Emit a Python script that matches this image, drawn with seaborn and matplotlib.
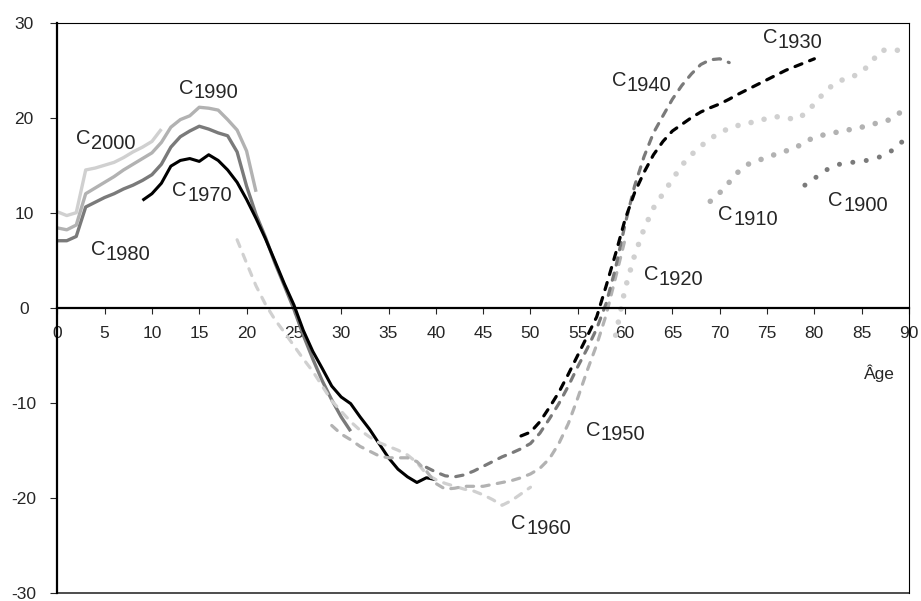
import pandas as pd
import matplotlib
matplotlib.use('Agg')
import matplotlib.pyplot as plt
import seaborn as sns

# cohort profiles by age (first age of each series, then one value per year)
start_age = {'2000': 0, '1990': 0, '1980': 0, '1970': 9, '1960': 19, '1950': 29,
             '1940': 39, '1930': 49, '1920': 59, '1910': 69, '1900': 79}

c2000 = [10.1, 9.7, 10.0, 14.5, 14.7, 15.0, 15.3, 15.8, 16.4, 16.9, 17.5, 18.8]
c1990 = [8.4, 8.2, 8.7, 12.0, 12.6, 13.2, 13.8, 14.5, 15.1, 15.7, 16.3, 17.4,
         19.0, 19.8, 20.2, 21.1, 21.0, 20.8, 19.8, 18.7, 16.5, 12.2]
c1980 = [7.05, 7.05, 7.5, 10.6, 11.1, 11.6, 12.0, 12.5, 12.9, 13.4, 14.0, 15.1,
         16.9, 18.0, 18.6, 19.1, 18.8, 18.4, 18.1, 16.4, 12.8, 9.8, 7.4, 4.7,
         2.3, -0.15, -2.9, -5.4, -7.7, -9.7, -11.5, -13.0]
c1970 = [11.3, 12.0, 13.1, 14.9, 15.5, 15.7, 15.4, 16.1, 15.5, 14.5, 13.2, 11.4,
         9.4, 7.25, 4.9, 2.5, 0.3, -2.4, -4.6, -6.4, -8.25, -9.4, -10.1, -11.5,
         -12.8, -14.3, -15.8, -17.0, -17.8, -18.4, -17.9, -18.1]
c1960 = [7.15, 4.7, 2.3, 0.35, -1.26, -2.6, -4.0, -5.4, -6.7, -8.25, -9.8, -10.9,
         -12.0, -12.9, -13.6, -14.2, -14.6, -15.0, -15.5, -16.3, -17.5, -18.1,
         -18.5, -18.8, -19.1, -19.3, -19.7, -20.2, -20.8, -20.3, -19.6, -18.9]
c1950 = [-12.4, -13.3, -13.9, -14.6, -15.1, -15.6, -15.8, -15.8, -15.8, -16.2,
         -17.2, -18.5, -19.1, -19.0, -18.8, -18.8, -18.8, -18.6, -18.4, -18.2,
         -17.9, -17.5, -16.9, -15.9, -14.3, -12.2, -9.5, -6.6, -3.9, -0.75, 3.2, 7.2]
c1940 = [-16.8, -17.3, -17.7, -17.8, -17.6, -17.2, -16.7, -16.2, -15.7, -15.3,
         -14.85, -14.3, -13.2, -11.7, -10.1, -8.25, -6.2, -4.3, -2.2, 0.46, 4.2,
         8.8, 12.8, 15.9, 18.4, 20.2, 21.95, 23.4, 24.6, 25.6, 26.1, 26.2, 25.8]
c1930 = [-13.5, -13.1, -12.0, -10.5, -8.9, -7.0, -5.0, -3.0, -0.96, 2.3, 5.7, 9.3,
         12.1, 14.25, 16.1, 17.5, 18.6, 19.3, 20.0, 20.6, 21.05, 21.45, 21.95,
         22.5, 23.0, 23.5, 24.0, 24.5, 25.0, 25.4, 25.8, 26.2]
c1920 = [-2.9, 2.0, 5.5, 8.3, 10.5, 12.0, 13.5, 15.0, 16.1, 17.0, 17.8, 18.4,
         18.9, 19.2, 19.4, 19.7, 19.9, 20.1, 20.0, 19.8, 20.4, 21.45, 22.6, 23.5,
         24.0, 24.3, 24.8, 25.8, 27.1, 27.1, 27.1, 27.1]
c1910 = [11.2, 12.1, 13.2, 14.35, 15.1, 15.5, 15.8, 16.2, 16.5, 16.8, 17.5, 17.9,
         18.2, 18.4, 18.6, 18.8, 19.0, 19.3, 19.5, 19.8, 20.5, 21.15]
c1900 = [12.9, 13.6, 14.35, 14.9, 15.2, 15.3, 15.4, 15.6, 15.9, 16.4, 17.2, 18.2]

series = {'2000': c2000, '1990': c1990, '1980': c1980, '1970': c1970,
          '1960': c1960, '1950': c1950, '1940': c1940, '1930': c1930,
          '1920': c1920, '1910': c1910, '1900': c1900}

# where the cohort names sit (age, value at the C / subscript junction)
label_pos = {'2000': (3.5, 17.8), '1990': (14.4, 23.1), '1980': (5.1, 6.1),
             '1970': (13.7, 12.3), '1960': (49.5, -22.7), '1950': (57.4, -12.9),
             '1940': (60.1, 23.9), '1930': (76.1, 28.4), '1920': (63.5, 3.5),
             '1910': (71.4, 9.8), '1900': (83.0, 11.3)}

frames = []
for year, vals in series.items():
    a0 = start_age[year]
    frames.append(pd.DataFrame({'age': range(a0, a0 + len(vals)),
                                'value': vals, 'cohort': year}))
df = pd.concat(frames, ignore_index=True)

light, mid, dark = '#d0d0d0', '#b2b2b2', '#7a7a7a'
dash = (0, (2.3, 2.6))
dot = (0, (0.01, 2.4))
styles = {
    '2000': dict(color=light, lw=2.4, ls='-'),
    '1990': dict(color=mid, lw=2.4, ls='-'),
    '1980': dict(color=dark, lw=2.4, ls='-'),
    '1970': dict(color='black', lw=2.2, ls='-'),
    '1960': dict(color=light, lw=2.3, ls=dash),
    '1950': dict(color=mid, lw=2.3, ls=dash),
    '1940': dict(color=dark, lw=2.3, ls=dash),
    '1930': dict(color='black', lw=2.3, ls=dash),
    '1920': dict(color=light, lw=4.0, ls=dot),
    '1910': dict(color=mid, lw=4.0, ls=dot),
    '1900': dict(color=dark, lw=3.6, ls=(0, (0.01, 2.7))),
}

sns.set_style('white')
plt.rcParams['font.family'] = ['Liberation Sans', 'DejaVu Sans']
plt.rcParams['axes.unicode_minus'] = False

fig, ax = plt.subplots(figsize=(9.21, 6.01), dpi=100)
fig.subplots_adjust(left=57.3 / 921, right=909 / 921, top=1 - 22.7 / 601, bottom=8.3 / 601)

for year in series:
    st = styles[year]
    sns.lineplot(data=df[df['cohort'] == year], x='age', y='value', ax=ax,
                 color=st['color'], linewidth=st['lw'], linestyle=st['ls'],
                 dash_capstyle='round', solid_capstyle='butt',
                 errorbar=None, legend=False, clip_on=False)

for year, (x, y) in label_pos.items():
    ax.text(x, y, 'C', ha='right', va='center', fontsize=14.5)
    ax.annotate(year, (x, y), xytext=(0.3, -3.4), textcoords='offset points',
                ha='left', va='center', fontsize=14.5)

ax.text(86.9, -6.9, 'Âge', ha='center', va='center', fontsize=12.5)

ax.set_xlim(0, 90)
ax.set_ylim(-30, 30)
ax.set_xticks(range(0, 91, 5))
ax.set_yticks(range(-30, 31, 10))
ax.set_xlabel('')
ax.set_ylabel('')

# x axis runs through zero, the frame is closed at -30
ax.spines['bottom'].set_position(('data', 0))
ax.spines['bottom'].set_linewidth(1.6)
ax.spines['left'].set_linewidth(1.6)
ax.spines['top'].set_linewidth(0.8)
ax.spines['right'].set_linewidth(0.8)
for s in ax.spines.values():
    s.set_color('black')
ax.axhline(-30, color='#4d4d4d', lw=1.4, clip_on=False)

ax.tick_params(axis='x', direction='out', length=4.5, width=0.8, pad=9,
               labelsize=12.5, bottom=True)
ax.tick_params(axis='y', direction='out', length=5, width=0.8, pad=19,
               labelsize=12.5, left=True)
for lab in ax.get_yticklabels():
    lab.set_horizontalalignment('center')

fig.savefig('out.png', dpi=100)
